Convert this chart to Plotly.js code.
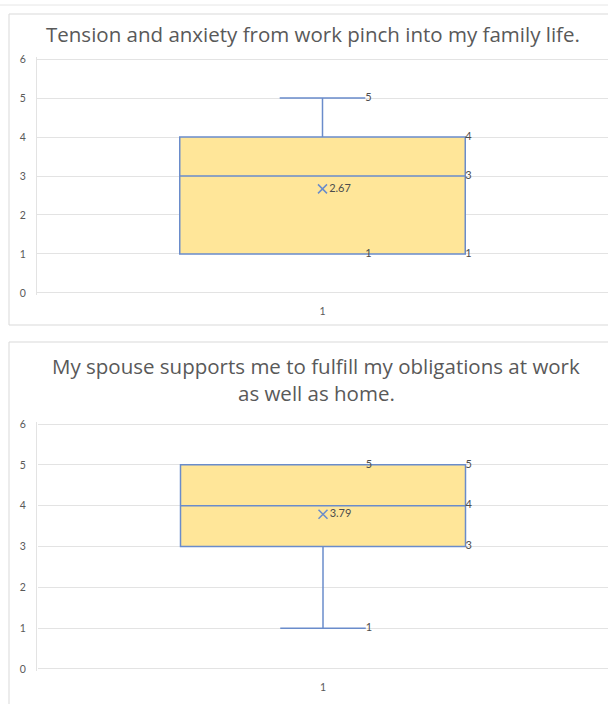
<!DOCTYPE html>
<html>
<head>
<meta charset="utf-8">
<script src="https://cdn.plot.ly/plotly-3.0.1.min.js"></script>
<style>html,body{margin:0;padding:0;background:#fff;}#chart{width:608px;height:704px;}</style>
</head>
<body>
<div id="chart"></div>
<script>
// ---- data ----
const categories = ['1'];
const titleTop = 'Tension and anxiety from work pinch into my family life.';
const titleBottomLines = ['My spouse supports me to fulfill my obligations at work', 'as well as home.'];
const minVals = [1, 1];
const q1Vals = [1, 3];
const medianVals = [3, 4];
const q3Vals = [4, 5];
const maxVals = [5, 5];
const meanVals = [2.67, 3.79];
const yTicks = [0, 1, 2, 3, 4, 5, 6];

// ---- styles ----
const boxWidth = 0.5;
const whiskerFrac = 0.3;
const lineBlue = '#6a8ccb';
const fillGold = '#ffe699';
const textGray = '#595959';
const labelGray = '#4d4d4d';
const font = 'Lato, "Open Sans", sans-serif';
const titleFont = '"Open Sans", sans-serif';

const traces = [];
const xPos = 1;
[0, 1].forEach(i => {
  const xa = i === 0 ? 'x' : 'x2';
  const ya = i === 0 ? 'y' : 'y2';
  traces.push({
    type: 'box', xaxis: xa, yaxis: ya,
    x: [xPos], q1: [q1Vals[i]], median: [medianVals[i]], q3: [q3Vals[i]],
    lowerfence: [minVals[i]], upperfence: [maxVals[i]],
    width: boxWidth, whiskerwidth: whiskerFrac,
    fillcolor: fillGold, line: {color: lineBlue, width: 1.5},
    boxpoints: false, hoverinfo: 'skip'
  });
  const boxRight = xPos + boxWidth / 2;
  traces.push({
    type: 'scatter', mode: 'text', xaxis: xa, yaxis: ya,
    x: [boxRight, boxRight, boxRight],
    y: [q3Vals[i], medianVals[i], q1Vals[i]],
    text: [q3Vals[i], medianVals[i], q1Vals[i]].map(String),
    textposition: 'middle right',
    textfont: {family: font, size: 11, color: labelGray},
    cliponaxis: false, hoverinfo: 'skip'
  });
  const capRight = xPos + boxWidth * whiskerFrac / 2;
  traces.push({
    type: 'scatter', mode: 'text', xaxis: xa, yaxis: ya,
    x: [capRight, capRight],
    y: [maxVals[i], minVals[i]],
    text: [maxVals[i], minVals[i]].map(String),
    textposition: 'middle right',
    textfont: {family: font, size: 11, color: labelGray},
    cliponaxis: false, hoverinfo: 'skip'
  });
  traces.push({
    type: 'scatter', mode: 'markers+text', xaxis: xa, yaxis: ya,
    x: [xPos], y: [meanVals[i]],
    marker: {symbol: 'x-thin', size: 9, line: {color: lineBlue, width: 1.5}, color: lineBlue},
    text: [meanVals[i].toFixed(2)],
    textposition: 'middle right',
    textfont: {family: font, size: 11, color: labelGray},
    cliponaxis: false, hoverinfo: 'skip'
  });
});

function yAxis(domain) {
  return {
    domain: domain, range: [-0.06, 6.06], tickvals: yTicks, showgrid: true,
    gridcolor: '#e3e3e3', gridwidth: 1, zeroline: false,
    showline: true, linecolor: '#e3e3e3', linewidth: 1,
    ticks: 'outside', ticklen: 8, tickcolor: 'rgba(0,0,0,0)',
    tickfont: {family: font, size: 10.5, color: textGray}, fixedrange: true
  };
}
function xAxis(domain, anchor) {
  return {
    domain: domain, anchor: anchor, range: [0.5, 1.5], tickvals: [xPos], ticktext: categories,
    showgrid: false, zeroline: false, showline: false,
    ticks: 'outside', ticklen: 6, tickcolor: 'rgba(0,0,0,0)',
    tickfont: {family: font, size: 10.5, color: textGray}, fixedrange: true
  };
}

const H = 704, W = 608;
const layout = {
  width: W, height: H, margin: {l: 0, r: 0, t: 0, b: 0},
  paper_bgcolor: '#ffffff', plot_bgcolor: 'rgba(0,0,0,0)', showlegend: false,
  xaxis: xAxis([37 / W, 1], 'y'),
  yaxis: yAxis([1 - 295.3 / H, 1 - 56.7 / H]),
  xaxis2: xAxis([38 / W, 1], 'y2'),
  yaxis2: yAxis([1 - 671.4 / H, 1 - 421.6 / H]),
  annotations: [
    {text: titleTop, xref: 'paper', yref: 'paper', x: 313 / W, y: 1 - 34 / H,
     xanchor: 'center', yanchor: 'middle', showarrow: false,
     font: {family: titleFont, size: 20.5, color: textGray}},
    {text: titleBottomLines[0], xref: 'paper', yref: 'paper', x: 316 / W, y: 1 - 366 / H,
     xanchor: 'center', yanchor: 'middle', showarrow: false,
     font: {family: titleFont, size: 20.5, color: textGray}},
    {text: titleBottomLines[1], xref: 'paper', yref: 'paper', x: 316 / W, y: 1 - 393 / H,
     xanchor: 'center', yanchor: 'middle', showarrow: false,
     font: {family: titleFont, size: 20.5, color: textGray}}
  ],
  shapes: [
    {type: 'rect', xref: 'paper', yref: 'paper', x0: 9 / W, x1: 1.02, y0: 1 - 325 / H, y1: 1 - 14 / H,
     line: {color: '#d9d9d9', width: 1}, layer: 'below'},
    {type: 'rect', xref: 'paper', yref: 'paper', x0: 9 / W, x1: 1.02, y0: -0.02, y1: 1 - 342 / H,
     line: {color: '#d9d9d9', width: 1}, layer: 'below'},
    {type: 'line', xref: 'paper', yref: 'paper', x0: 0, x1: 1, y0: 1 - 5 / H, y1: 1 - 5 / H,
     line: {color: '#e6e6e6', width: 1}, layer: 'below'}
  ]
};

Plotly.newPlot('chart', traces, layout, {displayModeBar: false, staticPlot: true});
</script>
</body>
</html>
